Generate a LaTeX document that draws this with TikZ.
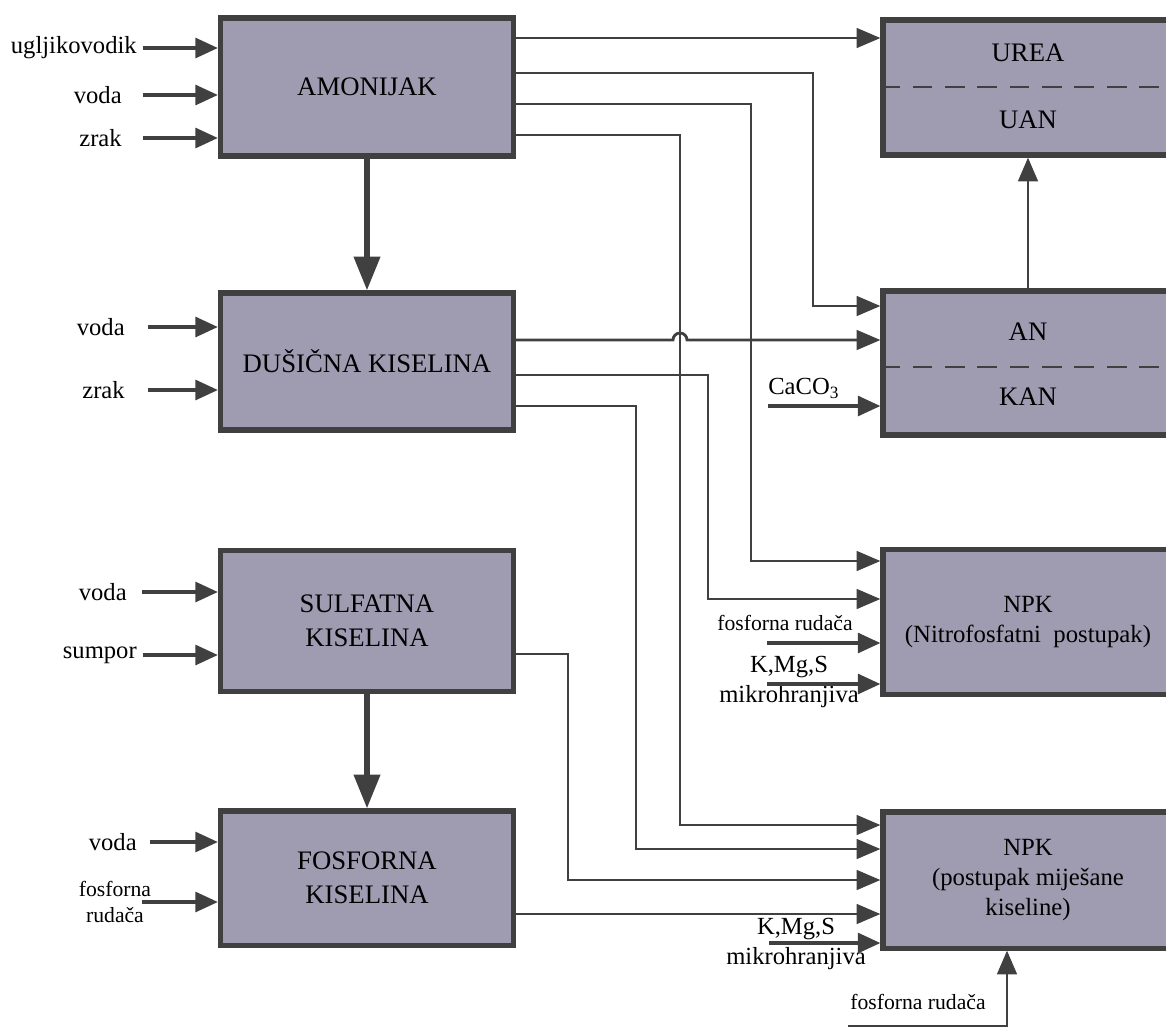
\documentclass[tikz,border=0pt]{standalone}
\usepackage{fontspec}
\setmainfont{Liberation Serif}
\usetikzlibrary{arrows.meta}
\definecolor{boxfill}{RGB}{159,155,176}
\definecolor{darkline}{RGB}{64,64,64}

\begin{document}
\begin{tikzpicture}[x=0.025cm, y=-0.025cm,
    box/.style={draw=darkline, fill=boxfill, line width=3.6pt, align=center,
                inner sep=0pt, font=\fontsize{19}{24}\selectfont},
    lbox/.style={box, minimum width=7.325cm},
    rbox/.style={box, minimum width=7.25cm},
    boxtext/.style={font=\fontsize{19}{24}\selectfont, inner sep=0pt},
    npktext/.style={font=\fontsize{17.6}{21}\selectfont},
    inarrow/.style={-{Triangle[length=16pt, width=14pt]}, darkline, line width=2.6pt},
    conn/.style={-{Triangle[length=17pt, width=14pt]}, darkline, line width=2pt},
    mainarrow/.style={-{Triangle[length=24pt, width=18pt]}, darkline, line width=4.2pt},
    lbl/.style={font=\fontsize{17.5}{21}\selectfont, inner sep=0pt, align=center},
    smalllbl/.style={font=\fontsize{15.4}{18.5}\selectfont, inner sep=0pt, align=center},
    split/.style={darkline, line width=2pt, dash pattern=on 14pt off 9pt}
]
\useasboundingbox (0,0) rectangle (1166,1028);
\clip (0,0) rectangle (1166,1028);

% --- Left column: acids and ammonia ---
\node[lbox, minimum height=3.45cm] (amon) at (367,87) {AMONIJAK};
\node[lbox, minimum height=3.425cm] (dusic) at (367,361.5) {DUŠIČNA KISELINA};
\node[lbox, minimum height=3.525cm] (sulf) at (367,621) {SULFATNA\\KISELINA};
\node[lbox, minimum height=3.35cm] (fosf) at (367,878) {FOSFORNA\\KISELINA};

\draw[mainarrow] (amon) -- (dusic);
\draw[mainarrow] (sulf) -- (fosf);

% --- Right column: products ---
\node[rbox, minimum height=3.375cm] (urea) at (1028,87.5) {};
\draw[split] (urea.west |- 0,87) -- (urea.east |- 0,87);
\node[boxtext] (urealbl) at (1028,53) {UREA};
\node[boxtext] (uanlbl) at (1028,120) {UAN};

\node[rbox, minimum height=3.6cm] (an) at (1028,363) {};
\draw[split] (an.west |- 0,367) -- (an.east |- 0,367);
\node[boxtext] (anlbl) at (1028,332) {AN};
\node[boxtext] (kanlbl) at (1028,397) {KAN};

\node[rbox, npktext, minimum height=3.625cm] (npka) at (1028,622)
    {NPK\\(Nitrofosfatni\ \ postupak)};
\node[rbox, npktext, minimum height=3.4cm] (npkb) at (1028,880)
    {NPK\\(postupak miješane\\kiseline)};

\draw[conn] (an) -- (urea);

% --- Raw material inputs, left ---
\node[lbl, anchor=east] (ugl) at (137,48) {ugljikovodik};
\node[lbl, anchor=east] (voda1) at (122,95) {voda};
\node[lbl, anchor=east] (zrak1) at (122,138) {zrak};
\draw[inarrow] ([xshift=4pt]ugl.east) -- (amon.west |- ugl.east);
\draw[inarrow] ([xshift=15pt]voda1.east) -- (amon.west |- voda1.east);
\draw[inarrow] ([xshift=15pt]zrak1.east) -- (amon.west |- zrak1.east);

\node[lbl, anchor=east] (voda2) at (125,327) {voda};
\node[lbl, anchor=east] (zrak2) at (125,390) {zrak};
\draw[inarrow] ([xshift=16pt]voda2.east) -- (dusic.west |- voda2.east);
\draw[inarrow] ([xshift=16pt]zrak2.east) -- (dusic.west |- zrak2.east);

\node[lbl, anchor=east] (voda3) at (127,592) {voda};
\node[lbl, anchor=east] (sumpor) at (137,655) {sumpor};
\draw[inarrow] ([xshift=11pt]voda3.east) -- (sulf.west |- voda3.east);
\draw[inarrow] ([xshift=4pt]sumpor.east) -- (sulf.west |- sumpor.east);

\node[lbl, anchor=east] (voda4) at (137,842) {voda};
\node[smalllbl] (rud1) at (115,902) {fosforna\\rudača};
\draw[inarrow] ([xshift=9pt]voda4.east) -- (fosf.west |- voda4.east);
\draw[inarrow] ([xshift=-7pt]rud1.east) -- (fosf.west |- rud1.east);

% --- Raw material inputs, right ---
\coordinate (cacoin) at (768,406);
\node[lbl, anchor=south west] (caco) at ([yshift=5pt]cacoin) {CaCO\textsubscript{3}};
\draw[inarrow] (cacoin) -- (an.west |- cacoin);

\coordinate (rud2in) at (767,643);
\node[smalllbl] (rud2) at (785,623) {fosforna rudača};
\draw[inarrow] (rud2in) -- (npka.west |- rud2in);

\coordinate (kmg1in) at (767,684);
\node[lbl] (kmg1) at (789,682) {K,Mg,S\\mikrohranjiva};
\draw[inarrow] (kmg1in) -- (npka.west |- kmg1in);

\coordinate (kmg2in) at (769,943);
\node[lbl] (kmg2) at (796,944) {K,Mg,S\\mikrohranjiva};
\draw[inarrow] (kmg2in) -- (npkb.west |- kmg2in);

\coordinate (rud3in) at (848,1026);
\coordinate (rud3turn) at (1007,1026);
\node[smalllbl] (rud3) at (918,1002) {fosforna rudača};
\draw[conn] (rud3in) -- (rud3turn) -- (npkb.south -| rud3turn);

% --- Intermediate streams ---
\draw[conn] (amon.east |- 0,38) -- (urea.west |- 0,38);
\draw[conn] (amon.east |- 0,73) -| (813,306) -- (an.west |- 0,306);
\draw[conn] (amon.east |- 0,104) -| (751,561) -- (npka.west |- 0,561);
\draw[conn] (amon.east |- 0,135) -| (680,825) -- (npkb.west |- 0,825);

% hop over the ammonia line
\draw[conn] (dusic.east |- 0,340) -- (673,340)
    arc[start angle=180, end angle=0, radius=0.175cm] -- (an.west |- 0,340);
\draw[conn] (dusic.east |- 0,375) -| (708,599) -- (npka.west |- 0,599);
\draw[conn] (dusic.east |- 0,406) -| (636,849) -- (npkb.west |- 0,849);

\draw[conn] (sulf.east |- 0,654) -| (568,880) -- (npkb.west |- 0,880);
\draw[conn] (fosf.east |- 0,914) -- (npkb.west |- 0,914);

\end{tikzpicture}
\end{document}
